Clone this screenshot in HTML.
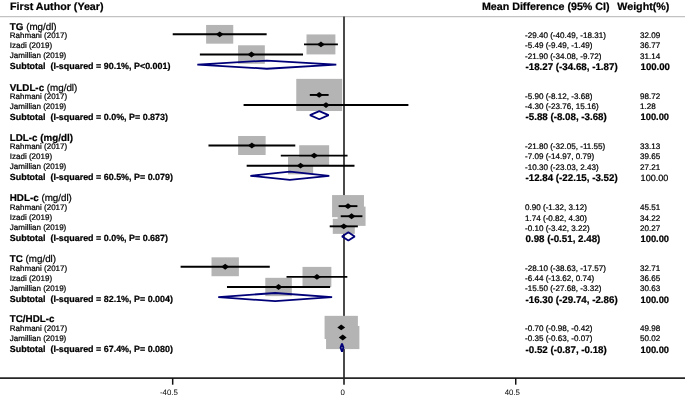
<!DOCTYPE html>
<html><head><meta charset="utf-8"><title>Forest plot</title>
<style>html,body{margin:0;padding:0;background:#fff}svg{display:block;will-change:transform}text{white-space:pre;text-rendering:geometricPrecision;stroke:#000;stroke-width:0.22px}</style>
</head><body>
<svg width="685" height="398" viewBox="0 0 685 398" font-family="'Liberation Sans', sans-serif" fill="#000">
<rect x="0" y="0" width="685" height="398" fill="#fff"/>
<line x1="0" y1="16.62" x2="685" y2="16.62" stroke="#c2c2c2" stroke-width="1.25"/>
<line x1="344" y1="16.5" x2="344" y2="384.7" stroke="#4a4a4a" stroke-width="2"/>
<g fill="#b4b4b4"><rect x="206.12" y="24.95" width="27.13" height="18.72"/><rect x="306.51" y="34.43" width="28.89" height="19.98"/><rect x="238.07" y="45.29" width="26.76" height="18.46"/><rect x="296.26" y="78.87" width="45.91" height="32.16"/><rect x="322.39" y="102.83" width="7.20" height="4.46"/><rect x="238.11" y="135.98" width="27.53" height="19.01"/><rect x="299.22" y="145.24" width="29.91" height="20.71"/><rect x="288.00" y="157.04" width="25.16" height="17.31"/><rect x="332.07" y="195.06" width="31.89" height="22.12"/><rect x="337.60" y="206.58" width="27.95" height="19.30"/><rect x="332.77" y="218.81" width="22.02" height="15.06"/><rect x="211.51" y="257.32" width="27.37" height="18.89"/><rect x="302.51" y="266.90" width="28.84" height="19.95"/><rect x="265.28" y="277.83" width="26.56" height="18.31"/><rect x="324.58" y="315.84" width="33.31" height="23.14"/><rect x="326.06" y="325.94" width="33.32" height="23.15"/></g>
<g stroke="#000" stroke-width="1.9"><line x1="172.72" y1="34.31" x2="266.66" y2="34.31"/><line x1="304.01" y1="44.41" x2="337.89" y2="44.41"/><line x1="199.87" y1="54.52" x2="303.04" y2="54.52"/><line x1="309.81" y1="94.95" x2="328.62" y2="94.95"/><line x1="243.58" y1="105.06" x2="408.40" y2="105.06"/><line x1="208.47" y1="145.48" x2="295.29" y2="145.48"/><line x1="280.80" y1="155.59" x2="347.55" y2="155.59"/><line x1="246.67" y1="165.70" x2="354.49" y2="165.70"/><line x1="338.61" y1="206.13" x2="357.41" y2="206.13"/><line x1="340.73" y1="216.23" x2="362.41" y2="216.23"/><line x1="329.72" y1="226.34" x2="357.84" y2="226.34"/><line x1="180.60" y1="266.77" x2="269.79" y2="266.77"/><line x1="286.52" y1="276.88" x2="347.33" y2="276.88"/><line x1="226.98" y1="286.98" x2="330.14" y2="286.98"/><line x1="340.05" y1="327.41" x2="342.42" y2="327.41"/><line x1="341.53" y1="337.52" x2="343.90" y2="337.52"/></g>
<g fill="#000"><polygon points="215.79,34.31 219.69,31.41 223.59,34.31 219.69,37.21"/><polygon points="317.05,44.41 320.95,41.51 324.85,44.41 320.95,47.31"/><polygon points="247.55,54.52 251.45,51.62 255.35,54.52 251.45,57.42"/><polygon points="315.31,94.95 319.21,92.05 323.11,94.95 319.21,97.85"/><polygon points="322.09,105.06 325.99,102.16 329.89,105.06 325.99,107.96"/><polygon points="247.98,145.48 251.88,142.58 255.78,145.48 251.88,148.38"/><polygon points="310.27,155.59 314.17,152.69 318.07,155.59 314.17,158.49"/><polygon points="296.68,165.70 300.58,162.80 304.48,165.70 300.58,168.60"/><polygon points="344.11,206.13 348.01,203.23 351.91,206.13 348.01,209.03"/><polygon points="347.67,216.23 351.57,213.33 355.47,216.23 351.57,219.13"/><polygon points="339.88,226.34 343.78,223.44 347.68,226.34 343.78,229.24"/><polygon points="221.30,266.77 225.20,263.87 229.10,266.77 225.20,269.67"/><polygon points="313.03,276.88 316.93,273.98 320.83,276.88 316.93,279.77"/><polygon points="274.66,286.98 278.56,284.08 282.46,286.98 278.56,289.88"/><polygon points="337.34,327.41 341.24,324.51 345.14,327.41 341.24,330.31"/><polygon points="338.82,337.52 342.72,334.62 346.62,337.52 342.72,340.42"/></g>
<g fill="none" stroke="#000078" stroke-width="1.8" stroke-linejoin="bevel"><polygon points="197.33,64.63 266.83,60.53 336.28,64.63 266.83,68.73"/><polygon points="309.98,115.16 319.30,111.06 328.62,115.16 319.30,119.26"/><polygon points="250.39,175.80 289.82,171.70 329.29,175.80 289.82,179.90"/><polygon points="342.04,236.45 348.35,232.35 354.70,236.45 348.35,240.55"/><polygon points="218.25,297.09 275.17,292.99 332.09,297.09 275.17,301.19"/><polygon points="340.52,347.62 342.00,343.52 343.44,347.62 342.00,351.72"/></g>
<line x1="0" y1="378.15" x2="685" y2="378.15" stroke="#262626" stroke-width="1.7"/>
<line x1="172.68" y1="378" x2="172.68" y2="384.7" stroke="#111" stroke-width="1.5"/>
<line x1="515.72" y1="378" x2="515.72" y2="384.7" stroke="#111" stroke-width="1.5"/>
<text x="160.00" y="395.2" font-size="7.85" style="stroke:none">-40.5</text>
<text x="340.60" y="395.2" font-size="7.85" style="stroke:none">0</text>
<text x="504.70" y="395.2" font-size="7.85" style="stroke:none">40.5</text>
<g font-weight="bold" font-size="10.7"><text x="10.100000000000001" y="10.35">First Author (Year)</text><text x="481.9" y="10.35">Mean Difference (95% CI)</text><text x="617.3" y="10.35">Weight(%)</text></g>
<text x="9.8" y="29.65" font-size="9.8"><tspan font-weight="bold">TG</tspan> (mg/dl)</text>
<text x="9.8" y="38.36" font-size="8.0">Rahmani (2017)</text>
<text x="525.0" y="38.36" font-size="8.08">-29.40 (-40.49, -18.31)</text>
<text x="640.0" y="38.36" font-size="8.08">32.09</text>
<text x="9.8" y="48.29" font-size="8.0">Izadi (2019)</text>
<text x="525.0" y="48.29" font-size="8.08">-5.49 (-9.49, -1.49)</text>
<text x="640.0" y="48.29" font-size="8.08">36.77</text>
<text x="9.8" y="58.22" font-size="8.0">Jamillian (2019)</text>
<text x="525.0" y="58.60" font-size="8.08">-21.90 (-34.08, -9.72)</text>
<text x="640.0" y="58.60" font-size="8.08">31.14</text>
<text x="9.8" y="69.33" font-size="8.93" font-weight="bold" xml:space="preserve">Subtotal  (I-squared = 90.1%, P&lt;0.001)</text>
<text x="525.5" y="69.53" font-size="9.76" font-weight="bold">-18.27 (-34.68, -1.87)</text>
<text x="640.6" y="69.53" font-size="9.6" font-weight="bold">100.00</text>
<text x="9.8" y="90.59" font-size="9.8"><tspan font-weight="bold">VLDL-c</tspan> (mg/dl)</text>
<text x="9.8" y="98.65" font-size="8.0">Rahmani (2017)</text>
<text x="525.0" y="98.65" font-size="8.08">-5.90 (-8.12, -3.68)</text>
<text x="640.0" y="98.65" font-size="8.08">98.72</text>
<text x="9.8" y="108.83" font-size="8.0">Jamillian (2019)</text>
<text x="525.0" y="108.58" font-size="8.08">-4.30 (-23.76, 15.16)</text>
<text x="640.0" y="108.58" font-size="8.08">1.28</text>
<text x="9.8" y="119.86" font-size="8.93" font-weight="bold" xml:space="preserve">Subtotal  (I-squared = 0.0%, P= 0.873)</text>
<text x="525.5" y="120.36" font-size="9.76" font-weight="bold">-5.88 (-8.08, -3.68)</text>
<text x="640.6" y="120.36" font-size="9.3" font-weight="bold">100.00</text>
<text x="9.8" y="140.63" font-size="9.8" font-weight="bold">LDL-c (mg/dl)</text>
<text x="9.8" y="149.08" font-size="8.0">Rahmani (2017)</text>
<text x="525.0" y="149.08" font-size="8.08">-21.80 (-32.05, -11.55)</text>
<text x="640.0" y="149.08" font-size="8.08">33.13</text>
<text x="9.8" y="159.19" font-size="8.0">Izadi (2019)</text>
<text x="525.0" y="159.39" font-size="8.08">-7.09 (-14.97, 0.79)</text>
<text x="640.0" y="159.39" font-size="8.08">39.65</text>
<text x="9.8" y="169.30" font-size="8.0">Jamillian (2019)</text>
<text x="525.0" y="169.50" font-size="8.08">-10.30 (-23.03, 2.43)</text>
<text x="640.0" y="169.50" font-size="8.08">27.21</text>
<text x="9.8" y="180.20" font-size="8.93" font-weight="bold" xml:space="preserve">Subtotal  (I-squared = 60.5%, P= 0.079)</text>
<text x="525.5" y="180.90" font-size="9.76" font-weight="bold">-12.84 (-22.15, -3.52)</text>
<text x="640.6" y="180.90" font-size="9.05">100.00</text>
<text x="9.8" y="201.27" font-size="9.8"><tspan font-weight="bold">HDL-c</tspan> (mg/dl)</text>
<text x="9.8" y="210.18" font-size="8.0">Rahmani (2017)</text>
<text x="525.0" y="210.18" font-size="8.08">0.90 (-1.32, 3.12)</text>
<text x="640.0" y="210.18" font-size="8.08">45.51</text>
<text x="9.8" y="220.28" font-size="8.0">Izadi (2019)</text>
<text x="525.0" y="220.53" font-size="8.08">1.74 (-0.82, 4.30)</text>
<text x="640.0" y="220.53" font-size="8.08">34.22</text>
<text x="9.8" y="230.39" font-size="8.0">Jamillian (2019)</text>
<text x="525.0" y="230.79" font-size="8.08">-0.10 (-3.42, 3.22)</text>
<text x="640.0" y="230.79" font-size="8.08">20.27</text>
<text x="9.8" y="241.15" font-size="8.93" font-weight="bold" xml:space="preserve">Subtotal  (I-squared = 0.0%, P= 0.687)</text>
<text x="525.5" y="242.20" font-size="9.76" font-weight="bold">0.98 (-0.51, 2.48)</text>
<text x="640.6" y="242.20" font-size="9.3" font-weight="bold">100.00</text>
<text x="9.8" y="262.11" font-size="9.8"><tspan font-weight="bold">TC</tspan> (mg/dl)</text>
<text x="9.8" y="270.82" font-size="8.0">Rahmani (2017)</text>
<text x="525.0" y="270.82" font-size="8.08">-28.10 (-38.63, -17.57)</text>
<text x="640.0" y="270.82" font-size="8.08">32.71</text>
<text x="9.8" y="281.12" font-size="8.0">Izadi (2019)</text>
<text x="525.0" y="280.88" font-size="8.08">-6.44 (-13.62, 0.74)</text>
<text x="640.0" y="280.88" font-size="8.08">36.65</text>
<text x="9.8" y="291.03" font-size="8.0">Jamillian (2019)</text>
<text x="525.0" y="290.78" font-size="8.08">-15.50 (-27.68, -3.32)</text>
<text x="640.0" y="290.78" font-size="8.08">30.63</text>
<text x="9.8" y="301.99" font-size="8.93" font-weight="bold" xml:space="preserve">Subtotal  (I-squared = 82.1%, P= 0.004)</text>
<text x="525.5" y="302.69" font-size="9.76" font-weight="bold">-16.30 (-29.74, -2.86)</text>
<text x="640.6" y="302.69" font-size="9.3" font-weight="bold">100.00</text>
<text x="9.8" y="322.29" font-size="9.8" font-weight="bold">TC/HDL-c</text>
<text x="9.8" y="331.06" font-size="8.0">Rahmani (2017)</text>
<text x="525.0" y="331.06" font-size="8.08">-0.70 (-0.98, -0.42)</text>
<text x="640.0" y="331.06" font-size="8.08">49.98</text>
<text x="9.8" y="340.92" font-size="8.0">Jamillian (2019)</text>
<text x="525.0" y="341.32" font-size="8.08">-0.35 (-0.63, -0.07)</text>
<text x="640.0" y="341.32" font-size="8.08">50.02</text>
<text x="9.8" y="352.06" font-size="8.93" font-weight="bold" xml:space="preserve">Subtotal  (I-squared = 67.4%, P= 0.080)</text>
<text x="525.5" y="352.76" font-size="9.76" font-weight="bold">-0.52 (-0.87, -0.18)</text>
<text x="640.6" y="352.76" font-size="9.3" font-weight="bold">100.00</text>
</svg>
</body></html>
